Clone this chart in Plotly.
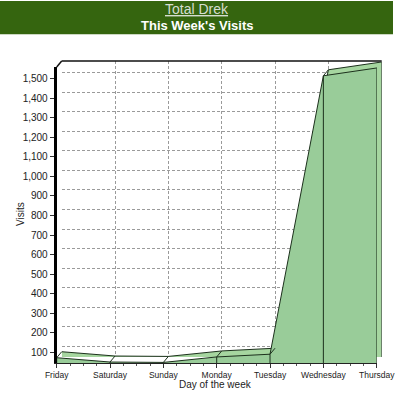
import plotly.graph_objects as go

# ---- data ----
days = ["Friday", "Saturday", "Sunday", "Monday", "Tuesday", "Wednesday", "Thursday"]
visits = [72, 50, 48, 76, 90, 1515, 1555]
y_ticks = list(range(100, 1600, 100))

W, H = 400, 397
Y0, Y1 = 45, 1560
idx = list(range(len(days)))

DX_PX, DY_PX = 5, 6
FL, FR, FB, FT = 56.7, 376.7, 363, 67          # front plane (px)
BL, BR, BB, BT = FL + DX_PX, FR + DX_PX, FB - DY_PX, FT - DY_PX  # back plane

px_per_x = (FR - FL) / (len(days) - 1)
px_per_y = (FB - FT) / (Y1 - Y0)
dxu = DX_PX / px_per_x
dyu = DY_PX / px_per_y


def px(p):
    return p / W


def py(p):
    return 1 - p / H


FRONT = "#99CC99"
TOP = "#A6D6A0"
EDGE = "#1c301c"

fig = go.Figure()

# back plane (xaxis / yaxis)
fig.add_trace(go.Scatter(x=idx, y=visits, mode="lines", fill="tozeroy",
                         fillcolor=TOP, line=dict(color=EDGE, width=1),
                         xaxis="x", yaxis="y", hoverinfo="skip"))
fig.add_trace(go.Scatter(x=[idx[-1], idx[-1]], y=[Y0, visits[-1]], mode="lines",
                         line=dict(color=EDGE, width=1), xaxis="x", yaxis="y",
                         hoverinfo="skip"))

# front plane (xaxis2 / yaxis2)
fig.add_trace(go.Scatter(x=idx, y=visits, mode="lines", fill="tozeroy",
                         fillcolor=FRONT, line=dict(color=EDGE, width=1),
                         xaxis="x2", yaxis="y2", hoverinfo="skip"))
vx, vy = [], []
for i, v in zip(idx, visits):
    vx += [i, i, None]
    vy += [Y0, v, None]
fig.add_trace(go.Scatter(x=vx, y=vy, mode="lines", line=dict(color=EDGE, width=1),
                         xaxis="x2", yaxis="y2", hoverinfo="skip"))
cx, cy = [], []
for i, v in zip(idx, visits):
    cx += [i, i + dxu, None]
    cy += [v, v + dyu, None]
fig.add_trace(go.Scatter(x=cx, y=cy, mode="lines", line=dict(color=EDGE, width=1),
                         xaxis="x2", yaxis="y2", hoverinfo="skip"))

grid_style = dict(showgrid=True, gridcolor="#9a9a9a", gridwidth=1, griddash="3px,2px")

fig.update_layout(
    width=W, height=H, autosize=False,
    margin=dict(l=0, r=0, t=0, b=0, autoexpand=False),
    paper_bgcolor="white", plot_bgcolor="rgba(0,0,0,0)",
    showlegend=False,
    font=dict(family="Liberation Sans, Arial, sans-serif", color="#222"),
    xaxis=dict(domain=[px(BL), px(BR)], range=[0, len(days) - 1], anchor="y",
               tickvals=idx, showticklabels=False, ticks="", zeroline=False,
               showline=False, automargin=False, **grid_style),
    yaxis=dict(domain=[py(BB), py(BT)], range=[Y0, Y1], anchor="x",
               tickvals=y_ticks, showticklabels=False, ticks="", zeroline=False,
               showline=False, automargin=False, **grid_style),
    xaxis2=dict(domain=[px(FL), px(FR)], range=[0, len(days) - 1], anchor="y2",
                tickvals=idx, ticktext=days, ticks="outside", ticklen=4,
                tickcolor="#333", showgrid=False, zeroline=False, automargin=False,
                showline=True, linecolor="#222", linewidth=1,
                tickfont=dict(size=8.5, color="#222"),
                minor=dict(dtick=0.25, tick0=0, ticks="outside", ticklen=2,
                           tickcolor="#555", showgrid=False)),
    yaxis2=dict(domain=[py(FB), py(FT)], range=[Y0, Y1], anchor="x2",
                tickvals=y_ticks, tickformat=",d", ticks="outside", ticklen=4,
                tickcolor="#333", showgrid=False, zeroline=False, automargin=False,
                showline=True, linecolor="black", linewidth=3,
                tickfont=dict(size=10, color="#222")),
)

# frame: back top border and top-left diagonal
fig.add_shape(type="line", xref="paper", yref="paper",
              x0=px(BL), x1=px(BR), y0=py(BT), y1=py(BT),
              line=dict(color="#111", width=1.5))
fig.add_shape(type="line", xref="paper", yref="paper",
              x0=px(FL), x1=px(BL), y0=py(FT), y1=py(BT),
              line=dict(color="#111", width=1.5))

# header band
fig.add_shape(type="rect", xref="paper", yref="paper",
              x0=px(0), x1=px(393), y0=py(34.3), y1=py(1),
              fillcolor="#35650F", line=dict(width=0), layer="below")
fig.add_annotation(text="<u>Total Drek</u>", xref="paper", yref="paper",
                   x=px(197), y=py(9.5), xanchor="center", yanchor="middle",
                   showarrow=False, font=dict(size=14, color="#D6DED0"))
fig.add_annotation(text="<b>This Week's Visits</b>", xref="paper", yref="paper",
                   x=px(197), y=py(25.5), xanchor="center", yanchor="middle",
                   showarrow=False, font=dict(size=13, color="white"))

# axis titles
fig.add_annotation(text="Day of the week", xref="paper", yref="paper",
                   x=px(215.5), y=py(384), xanchor="center", yanchor="middle",
                   showarrow=False, font=dict(size=10, color="#222"))
fig.add_annotation(text="Visits", xref="paper", yref="paper",
                   x=px(20), y=py(214), xanchor="center", yanchor="middle",
                   showarrow=False, textangle=-90, font=dict(size=10, color="#222"))

fig.write_html("out.html",
               config={"displayModeBar": False},
               post_script="document.body.style.margin='0px';"
                           "document.body.style.overflow='hidden';")
